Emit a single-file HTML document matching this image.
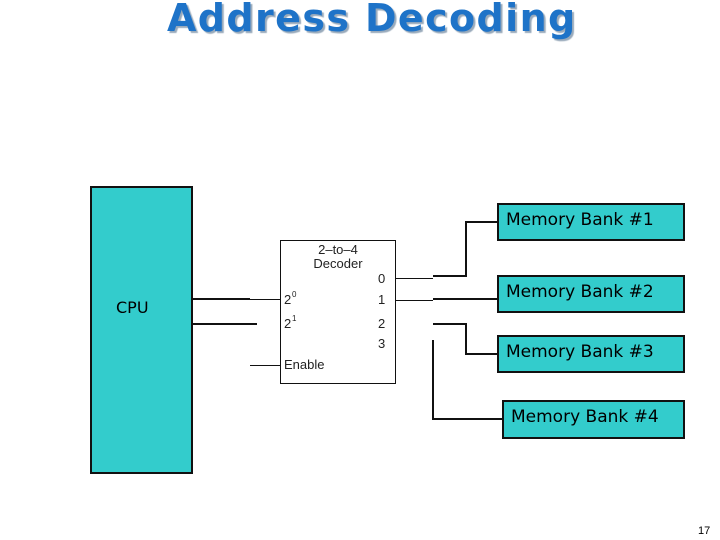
<!DOCTYPE html>
<html><head><style>
body{margin:0;width:720px;height:540px;background:#fff;position:relative;overflow:hidden;font-family:"DejaVu Sans","Liberation Sans",sans-serif}
.t{position:absolute;white-space:nowrap}
.b{position:absolute;background:#33cccc;border:2px solid #111;box-sizing:border-box;font-size:17px;padding-left:7px;line-height:30px}
</style></head><body>
<div class="t" style="left:167px;top:-4px;font-size:38px;font-weight:bold;color:#1e73c8;text-shadow:2px 2px 1px #9ab;letter-spacing:1.4px;font-family:'DejaVu Sans',sans-serif">Address Decoding</div>
<div class="b" style="left:90px;top:186px;width:103px;height:288px;padding:0"></div>
<div class="t" style="left:116px;top:298px;font-size:16px">CPU</div>
<div class="b" style="left:497px;top:203px;width:188px;height:38px">Memory Bank #1</div>
<div class="b" style="left:497px;top:275px;width:188px;height:38px">Memory Bank #2</div>
<div class="b" style="left:497px;top:335px;width:188px;height:38px">Memory Bank #3</div>
<div class="b" style="left:502px;top:400px;width:183px;height:39px">Memory Bank #4</div>
<svg style="position:absolute;left:0;top:0" width="720" height="540">
<rect x="280.5" y="240.5" width="115" height="143" fill="#fff" stroke="#111" stroke-width="1"/>
<g stroke="#111" fill="none" stroke-width="1">
<line x1="250" y1="299.5" x2="280" y2="299.5"/>
<line x1="250" y1="365.5" x2="280" y2="365.5"/>
<line x1="395" y1="278.5" x2="433" y2="278.5"/>
<line x1="395" y1="300.5" x2="433" y2="300.5"/>
</g>
<g stroke="#111" fill="none" stroke-width="2">
<line x1="193" y1="299" x2="250" y2="299"/>
<line x1="193" y1="324" x2="257" y2="324"/>
<polyline points="433,276 466,276 466,222 498,222"/>
<line x1="433" y1="299" x2="498" y2="299"/>
<polyline points="433,324 466,324 466,354 498,354"/>
<polyline points="433,340 433,419 503,419"/>
</g>
<g font-family="Liberation Sans,sans-serif" font-size="13" fill="#222">
<text x="338" y="254" text-anchor="middle">2–to–4</text>
<text x="338" y="268" text-anchor="middle">Decoder</text>
<text x="378" y="283">0</text>
<text x="378" y="304">1</text>
<text x="378" y="328">2</text>
<text x="378" y="348">3</text>
<text x="284" y="304">2</text><text x="292" y="297" font-size="8">0</text>
<text x="284" y="328">2</text><text x="292" y="321" font-size="8">1</text>
<text x="284" y="369">Enable</text>
<text x="698" y="534" font-size="11" fill="#000">17</text>
</g>
</svg>
</body></html>
